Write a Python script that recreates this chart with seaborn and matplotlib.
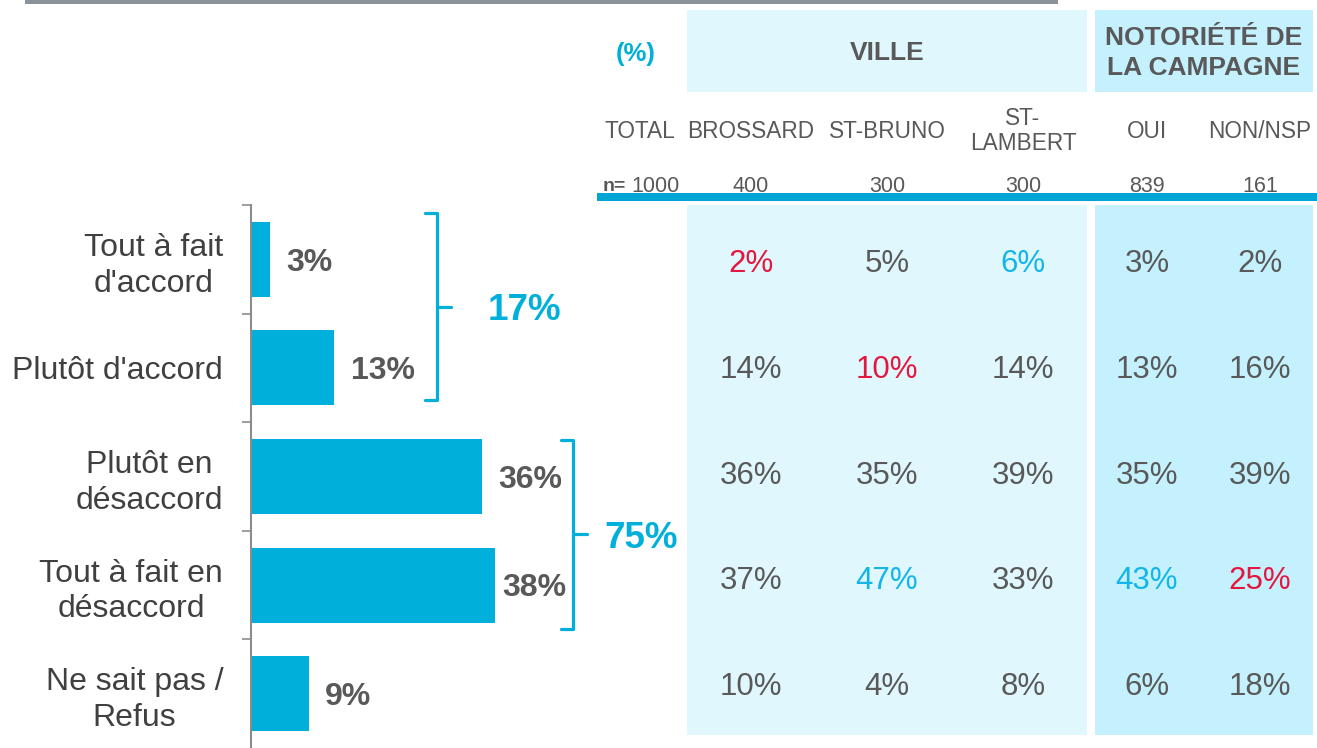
import matplotlib
matplotlib.use('Agg')
import matplotlib.pyplot as plt
from matplotlib.patches import Rectangle
import seaborn as sns

sns.set_style('white')
plt.rcParams['font.family'] = ['Liberation Sans', 'DejaVu Sans']

# data
categories = ["Tout à fait\nd'accord", "Plutôt d'accord", "Plutôt en\ndésaccord",
              "Tout à fait en\ndésaccord", "Ne sait pas /\nRefus"]
total = [3, 13, 36, 38, 9]
net_groups = [(0, 1), (2, 3)]
net_values = [17, 75]

col_labels = ['TOTAL', 'BROSSARD', 'ST-BRUNO', 'ST-\nLAMBERT', 'OUI', 'NON/NSP']
n_values = ['1000', '400', '300', '300', '839', '161']
brossard = [2, 14, 36, 37, 10]
st_bruno = [5, 10, 35, 47, 4]
st_lambert = [6, 14, 39, 33, 8]
oui = [3, 13, 35, 43, 6]
non_nsp = [2, 16, 39, 25, 18]
# significance: 'r' lower, 'b' higher
sig_brossard = ['r', '', '', '', '']
sig_st_bruno = ['', 'r', '', 'b', '']
sig_st_lambert = ['b', '', '', '', '']
sig_oui = ['', '', '', 'b', '']
sig_non_nsp = ['', '', '', 'r', '']

BLUE = '#00b0db'
GREY = '#595959'
sig_colors = {'': GREY, 'r': '#e4173e', 'b': '#12b5ea'}

W, H = 1317, 748
fig = plt.figure(figsize=(W / 100, H / 100), dpi=100)

# full-figure overlay in pixel coords for the table part
ax_t = fig.add_axes([0, 0, 1, 1])
ax_t.set_xlim(0, W)
ax_t.set_ylim(H, 0)
ax_t.axis('off')
ax_t.patch.set_visible(False)

# bar axes
px_per_pct = 6.42
ax_l, ax_w = 251, 450
ax = fig.add_axes([ax_l / W, 0, ax_w / W, 543 / H])
ax.patch.set_visible(False)
sns.barplot(x=total, y=categories, orient='h', color=BLUE, saturation=1,
            width=0.69, linewidth=0, ax=ax)
ax.set_xlim(0, ax_w / px_per_pct)
ax.set_ylim(4.5, -0.5)
ax.set_xlabel('')
ax.set_ylabel('')
for s in ['top', 'right', 'bottom']:
    ax.spines[s].set_visible(False)
ax.spines['left'].set_color('#8c8c8c')
ax.spines['left'].set_linewidth(1.5)
ax.set_xticks([])
ax.set_yticks(range(len(categories)))
ax.set_yticklabels(categories, fontsize=23, color='#404040')
for lbl in ax.get_yticklabels():
    lbl.set_multialignment('center')
    lbl.set_linespacing(1.25)
ax.set_yticks([i - 0.5 for i in range(len(categories))], minor=True)
ax.tick_params(axis='y', which='major', length=0, pad=20)
ax.tick_params(axis='y', which='minor', left=True, direction='out', length=6.5,
               width=1.2, color='#8c8c8c')

# bracket layout (data units)
bracket_x = [29.0, 50.2]
bracket_y = [(-0.43, 1.30), (1.66, 3.40)]
net_text_x = [36.8, 55.1]
serif, pointer = 1.9, 2.2

for i, v in enumerate(total):
    x = min(v + 2.5, bracket_x[1] - 11)
    ax.text(x, i + 0.03, f'{v}%', ha='left', va='center', fontsize=23,
            fontweight='bold', color=GREY)

for k, (g, nv) in enumerate(zip(net_groups, net_values)):
    bx = bracket_x[k]
    y0, y1 = bracket_y[k]
    ym = (y0 + y1) / 2
    ax.plot([bx - serif, bx, bx, bx - serif], [y0, y0, y1, y1], color=BLUE,
            lw=2.3, clip_on=False, solid_joinstyle='round', solid_capstyle='round')
    ax.plot([bx, bx + pointer], [ym, ym], color=BLUE, lw=2.3, clip_on=False,
            solid_capstyle='round')
    ax.text(net_text_x[k], ym + 0.04, f'{nv}%', ha='left', va='center',
            fontsize=26.5, fontweight='bold', color=BLUE)

# top rule
ax_t.add_patch(Rectangle((25, 0), 1033, 4, color='#8a929a', lw=0))

# column bands
ville_c, noto_c = '#e0f7fe', '#c4f1fd'
ax_t.add_patch(Rectangle((687, 10), 400, 82, color=ville_c, lw=0))
ax_t.add_patch(Rectangle((1095, 10), 218, 82, color=noto_c, lw=0))
ax_t.add_patch(Rectangle((687, 205), 400, 530, color=ville_c, lw=0))
ax_t.add_patch(Rectangle((1095, 205), 218, 530, color=noto_c, lw=0))
ax_t.add_patch(Rectangle((597, 193), 720, 8, color='#00a5d3', lw=0))

ax_t.text(636, 54, '(%)', ha='center', va='center', fontsize=18.5,
          fontweight='bold', color=BLUE)
ax_t.text(887, 53, 'VILLE', ha='center', va='center', fontsize=19,
          fontweight='bold', color=GREY)
ax_t.text(1204, 53, 'NOTORIÉTÉ DE\nLA CAMPAGNE', ha='center', va='center',
          fontsize=19, fontweight='bold', color=GREY, linespacing=1.3)

col_x = [640, 751, 887, 1023, 1147, 1260]
for cx, lab, n in zip(col_x, col_labels, n_values):
    ax_t.text(cx, 131, lab, ha='center', va='center', fontsize=16.3,
              color=GREY, linespacing=1.15)
    if lab == 'TOTAL':
        ax_t.text(626, 186, 'n=', ha='right', va='center', fontsize=14,
                  fontweight='bold', color=GREY)
        ax_t.text(631, 186, n, ha='left', va='center', fontsize=15.5, color=GREY)
    else:
        ax_t.text(cx, 186, n, ha='center', va='center', fontsize=15.5, color=GREY)

cols = [brossard, st_bruno, st_lambert, oui, non_nsp]
sigs = [sig_brossard, sig_st_bruno, sig_st_lambert, sig_oui, sig_non_nsp]
row_y0, row_dy = 264, 105.75
for cx, vals, sg in zip(col_x[1:], cols, sigs):
    for r, (v, s) in enumerate(zip(vals, sg)):
        ax_t.text(cx, row_y0 + r * row_dy, f'{v}%', ha='center', va='center',
                  fontsize=22.5, color=sig_colors[s])

fig.savefig('out.png', dpi=100)
